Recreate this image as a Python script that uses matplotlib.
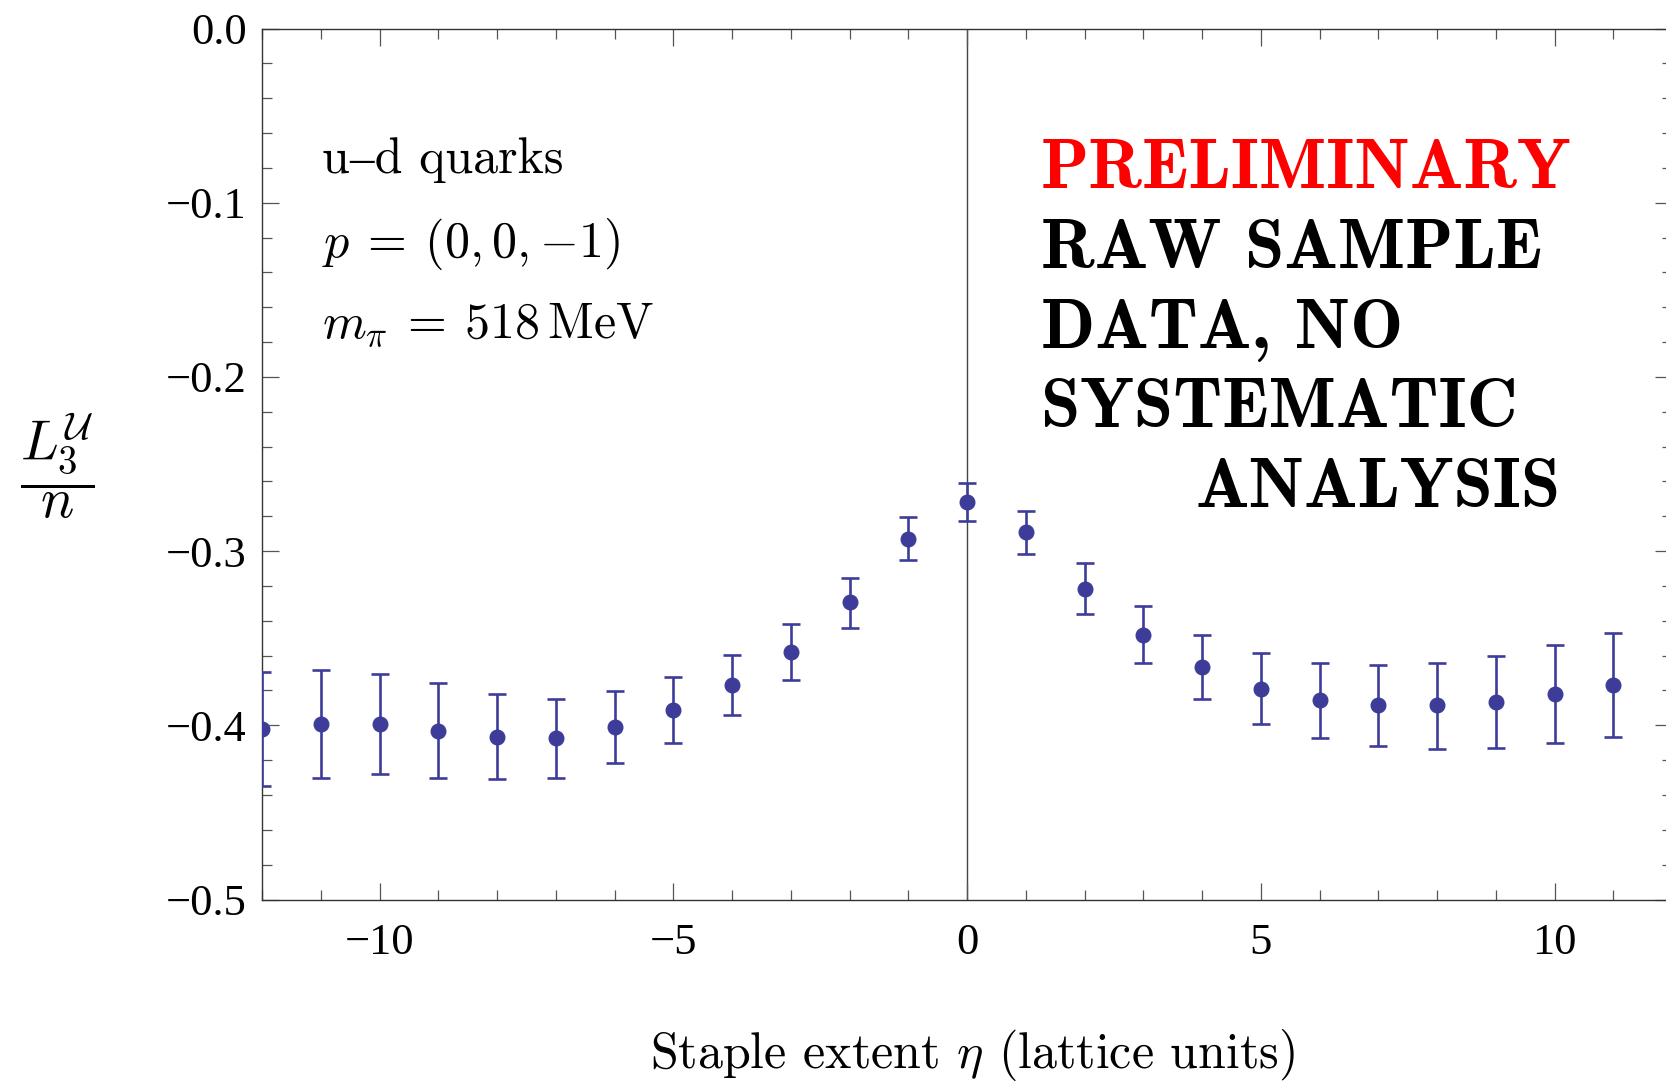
import numpy as np
import matplotlib
matplotlib.use("Agg")
import matplotlib.pyplot as plt
from matplotlib.ticker import MultipleLocator, FixedLocator

plt.rcParams["mathtext.fontset"] = "cm"

# staple extent eta and L3/n with lower/upper error-bar ends
eta = [-12, -11, -10, -9, -8, -7, -6, -5, -4, -3, -2, -1, 0,
       1, 2, 3, 4, 5, 6, 7, 8, 9, 10, 11]
ratio = [-0.402, -0.399, -0.399, -0.403, -0.407, -0.4075, -0.401, -0.391, -0.377, -0.358,
         -0.3295, -0.293, -0.272, -0.289, -0.3215, -0.348, -0.3665, -0.379, -0.3855,
         -0.3885, -0.3885, -0.3865, -0.382, -0.377]
ratio_hi = [-0.3695, -0.368, -0.3705, -0.376, -0.382, -0.385, -0.3805, -0.372, -0.3595,
            -0.342, -0.3155, -0.2805, -0.261, -0.277, -0.307, -0.3315, -0.348, -0.3585,
            -0.364, -0.3655, -0.364, -0.360, -0.354, -0.347]
ratio_lo = [-0.435, -0.430, -0.428, -0.430, -0.431, -0.430, -0.4215, -0.410, -0.394,
            -0.374, -0.344, -0.305, -0.283, -0.3015, -0.336, -0.3645, -0.385, -0.399,
            -0.4075, -0.412, -0.4135, -0.413, -0.410, -0.4065]

ytick_vals = [0.0, -0.1, -0.2, -0.3, -0.4, -0.5]
ytick_labels = ["0.0", "\u22120.1", "\u22120.2", "\u22120.3", "\u22120.4", "\u22120.5"]
xtick_vals = [-10, -5, 0, 5, 10]
xtick_labels = ["\u221210", "\u22125", "0", "5", "10"]

W, H = 1666, 1082
fig = plt.figure(figsize=(W / 100, H / 100), dpi=100, facecolor="white")
ax = fig.add_axes([262 / W, 1 - 899.5 / H, 1410 / W, 871 / H])

y = np.array(ratio)
yerr = [y - np.array(ratio_lo), np.array(ratio_hi) - y]
pt_color = (0.24, 0.24, 0.6)
ax.errorbar(eta, y, yerr=yerr, fmt="o", color=pt_color, ms=10.5, elinewidth=1.9,
            capsize=6.3, capthick=1.9, zorder=3)
ax.axvline(0, color="#444444", lw=1.0, zorder=1)

ax.set_xlim(-12, 12)
ax.set_ylim(-0.5, 0.0)

ax.xaxis.set_major_locator(FixedLocator(xtick_vals))
ax.xaxis.set_minor_locator(MultipleLocator(1))
ax.yaxis.set_major_locator(FixedLocator(ytick_vals))
ax.yaxis.set_minor_locator(MultipleLocator(0.02))
ax.set_xticklabels(xtick_labels, family="Liberation Serif", fontsize=32)
ax.set_yticklabels(ytick_labels, family="Liberation Serif", fontsize=32)

for s in ax.spines.values():
    s.set_color("#333333")
    s.set_linewidth(1.0)
ax.tick_params(which="both", direction="in", top=True, right=True, color="#555555", width=0.9)
ax.tick_params(which="major", length=12)
ax.tick_params(which="minor", length=7)
ax.tick_params(axis="x", which="major", pad=17)
ax.tick_params(axis="y", which="major", pad=11)


def fx(px):
    return px / W


def fy(px):
    return 1 - px / H


# labels
fig.text(fx(973), fy(1068), r"Staple extent $\eta$ (lattice units)", family="cmr10",
         fontsize=36, ha="center", va="baseline")
fig.text(fx(57), fy(466), r"$\dfrac{L_3^{\mathcal{U}}}{n}$", fontsize=40,
         ha="center", va="center")

# left annotations
fig.text(fx(322), fy(173), "u\u2013d quarks", family=["cmr10", "STIXGeneral"],
         fontsize=36, va="baseline")
fig.text(fx(322), fy(257), r"$p\:=\:(0,0,{-1})$", fontsize=36, va="baseline")
fig.text(fx(322), fy(338), r"$m_\pi\:=\:518\,\mathrm{MeV}$", fontsize=36, va="baseline")

# preliminary notice
notice = [("PRELIMINARY", 1041, 188, "red"),
          ("RAW SAMPLE", 1041, 268, "black"),
          ("DATA, NO", 1041, 348, "black"),
          ("SYSTEMATIC", 1041, 427, "black"),
          ("ANALYSIS", 1195, 507, "black")]
for txt, px, py, col in notice:
    fig.text(fx(px), fy(py), txt, family="cmb10", fontsize=51, color=col, va="baseline")

fig.savefig("out.png", dpi=100, facecolor="white")
